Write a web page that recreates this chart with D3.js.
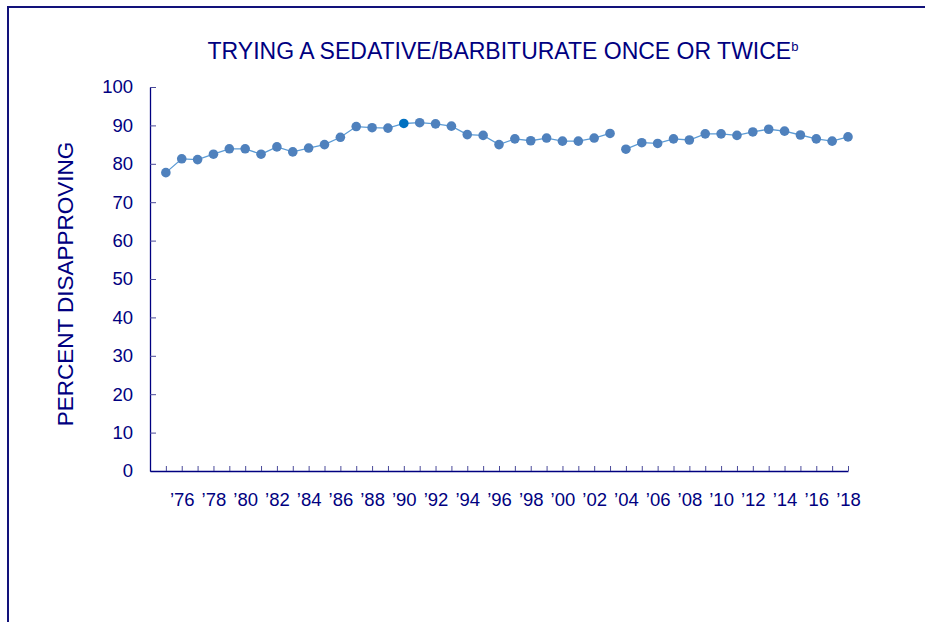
<!DOCTYPE html>
<html>
<head>
<meta charset="utf-8">
<script src="https://cdn.jsdelivr.net/npm/d3@7"></script>
<style>
  html, body { margin: 0; padding: 0; background: #fff; }
  svg { display: block; font-family: Arial, "Liberation Sans", sans-serif; }
</style>
</head>
<body>
<svg id="chart" width="925" height="622"></svg>
<script>
const years = d3.range(1975, 2019);
const values = [
  77.7, 81.3, 81.1, 82.5, 83.9, 83.9, 82.5, 84.4, 83.1, 84.1,
  85.0, 86.9, 89.7, 89.4, 89.3, 90.5, 90.7, 90.4, 89.8, 87.6,
  87.4, 85.0, 86.5, 86.0, 86.7, 85.9, 85.9, 86.7, 87.9, 83.8,
  85.5, 85.3, 86.5, 86.2, 87.8, 87.8, 87.4, 88.3, 89.0, 88.5,
  87.5, 86.5, 85.9, 87.0
];
const yTicks = [0, 10, 20, 30, 40, 50, 60, 70, 80, 90, 100];
const labelYears = d3.range(1976, 2019, 2);
const breakYear = 2004; // line is not joined across this year
const highlightYear = 1990;

const title = "TRYING A SEDATIVE/BARBITURATE ONCE OR TWICE";
const yTitle = "PERCENT DISAPPROVING";

const navy = "#000080";
const data = years.map((year, i) => ({ year, value: values[i] }));

const svg = d3.select("svg#chart");

// outer frame
svg.append("rect")
  .attr("x", 8).attr("y", 7)
  .attr("width", 940).attr("height", 640)
  .attr("fill", "none")
  .attr("stroke", "#12127a")
  .attr("stroke-width", 2);

const x = d3.scaleLinear().domain([1974, 2018]).range([150, 848]);
const y = d3.scaleLinear().domain([0, 100]).range([471, 87]);

const yAxis = svg.append("g")
  .attr("transform", `translate(${x(1974)},0)`)
  .call(d3.axisLeft(y).tickValues(yTicks).tickSizeInner(-6).tickSizeOuter(0).tickPadding(17));

const xAxis = svg.append("g")
  .attr("transform", `translate(0,${y(0)})`)
  .call(
    d3.axisBottom(x)
      .tickValues(years)
      .tickSizeInner(-5)
      .tickSizeOuter(0)
      .tickPadding(22)
      .tickFormat(d => (labelYears.includes(d) ? "\u2019" + String(d).slice(2) : ""))
  );

[yAxis, xAxis].forEach(g => {
  g.select(".domain").attr("stroke", navy).attr("stroke-width", 1.3);
  g.selectAll(".tick line").attr("stroke", "#4a4a9a");
  g.selectAll(".tick text")
    .attr("fill", navy)
    .style("font-size", "18.5px")
    .style("font-family", "Arial, 'Liberation Sans', sans-serif");
});

// title
const t = svg.append("text")
  .attr("x", 503).attr("y", 59)
  .attr("text-anchor", "middle")
  .attr("fill", navy)
  .style("font-size", "23px");
t.append("tspan").text(title);
t.append("tspan").attr("dy", -8).style("font-size", "13px").text("b");

svg.append("text")
  .attr("transform", "translate(73,284) rotate(-90)")
  .attr("text-anchor", "middle")
  .attr("fill", navy)
  .style("font-size", "22.5px")
  .text(yTitle);

const line = d3.line().x(d => x(d.year)).y(d => y(d.value));

[data.filter(d => d.year < breakYear), data.filter(d => d.year >= breakYear)].forEach(seg => {
  svg.append("path")
    .datum(seg)
    .attr("fill", "none")
    .attr("stroke", "#5b9bd5")
    .attr("stroke-width", 1.3)
    .attr("d", line);
});

svg.append("g")
  .selectAll("circle")
  .data(data)
  .join("circle")
  .attr("cx", d => x(d.year))
  .attr("cy", d => y(d.value))
  .attr("r", 4.8)
  .attr("fill", d => (d.year === highlightYear ? "#0070c0" : "#4f81bd"));
</script>
</body>
</html>
